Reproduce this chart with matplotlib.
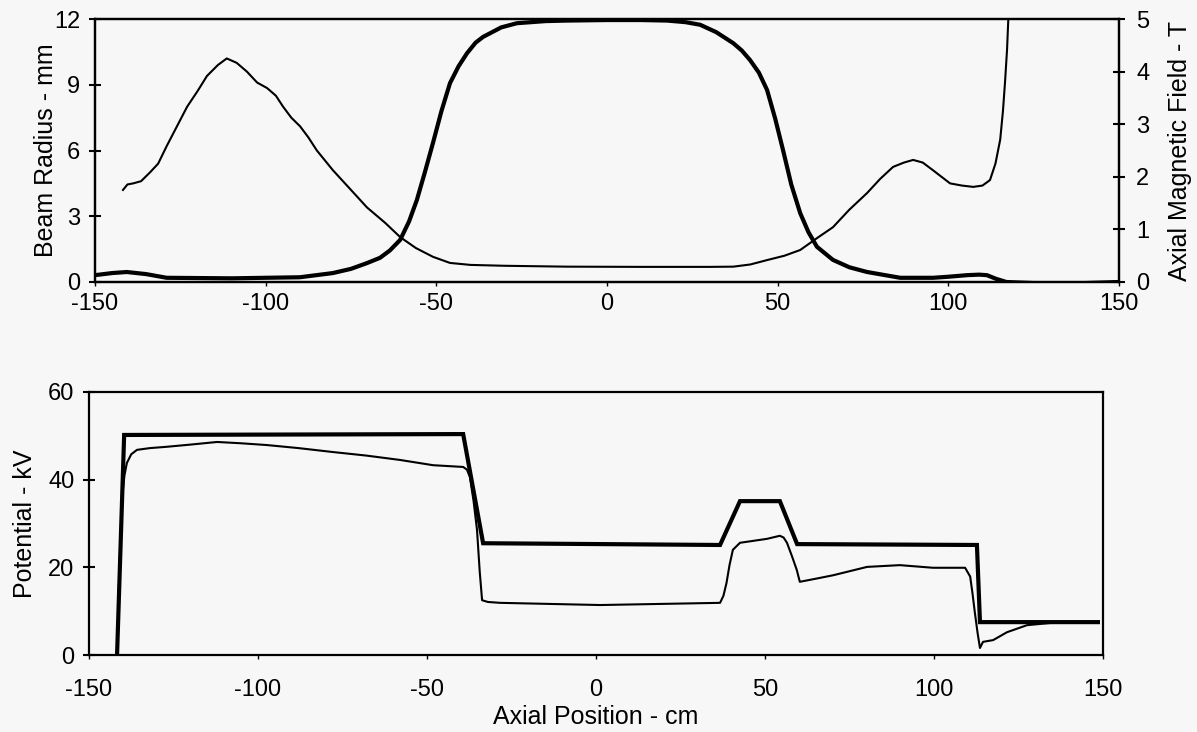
import matplotlib
matplotlib.use("Agg")
import matplotlib.pyplot as plt

plt.rcParams['font.family'] = ['Liberation Sans', 'DejaVu Sans']
plt.rcParams['axes.unicode_minus'] = False

# ---- Top panel: beam radius (mm) ----
radius_x = [-141.8, -140.5, -138.8, -136.5, -133.9, -131.5, -129.0, -126.0, -123.0, -120.0, -117.2,
            -114.0, -111.4, -108.5, -105.5, -102.5, -99.6, -97.0, -94.9, -92.5, -89.9, -87.5, -85.0,
            -80.3, -75.0, -70.3, -65.0, -60.6, -56.0, -51.0, -46.0, -40.0, -30.0, -11.7, 10.0, 30.0,
            37.0, 42.0, 46.9, 52.0, 56.6, 61.5, 66.2, 71.0, 76.2, 80.0, 83.8, 87.0, 89.7, 92.5, 95.5,
            98.0, 100.5, 104.0, 107.3, 110.0, 112.2, 113.8, 115.2, 116.0, 116.6, 117.2, 117.6]
radius_y = [4.2, 4.45, 4.5, 4.6, 5.0, 5.4, 6.2, 7.1, 8.0, 8.7, 9.4,
            9.9, 10.2, 10.0, 9.6, 9.1, 8.85, 8.5, 8.0, 7.5, 7.1, 6.6, 6.0,
            5.1, 4.2, 3.4, 2.7, 2.05, 1.55, 1.15, 0.87, 0.78, 0.74, 0.70, 0.69, 0.69,
            0.70, 0.80, 1.0, 1.2, 1.46, 2.0, 2.5, 3.3, 4.06, 4.7, 5.25, 5.45, 5.57, 5.45, 5.1,
            4.8, 4.5, 4.4, 4.34, 4.4, 4.65, 5.4, 6.5, 7.8, 9.1, 10.6, 12.1]

# ---- Top panel: axial magnetic field (T) ----
field_x = [-150.0, -145.0, -140.7, -135.0, -129.0, -110.0, -90.0, -80.3, -75.0, -70.3, -66.5, -63.6,
           -60.6, -58.0, -55.7, -53.3, -51.0, -48.5, -46.0, -43.5, -41.0, -38.5, -36.3, -31.0, -26.4,
           -18.0, -11.7, 0.0, 10.0, 17.6, 23.0, 27.3, 32.0, 37.0, 39.5, 41.9, 44.5, 46.9, 49.3, 51.6,
           54.0, 56.6, 59.0, 61.5, 66.2, 71.0, 76.2, 85.9, 95.5, 100.0, 105.5, 109.0, 111.3, 114.0,
           117.0, 125.0, 140.0, 150.0]
field_y = [0.13, 0.17, 0.19, 0.15, 0.08, 0.07, 0.09, 0.17, 0.25, 0.36, 0.46, 0.6,
           0.8, 1.15, 1.56, 2.1, 2.64, 3.25, 3.78, 4.1, 4.35, 4.55, 4.66, 4.84, 4.92,
           4.96, 4.97, 4.98, 4.98, 4.97, 4.94, 4.89, 4.75, 4.54, 4.4, 4.22, 3.98, 3.65, 3.1, 2.5,
           1.85, 1.31, 0.95, 0.67, 0.42, 0.28, 0.19, 0.08, 0.08, 0.1, 0.13, 0.14, 0.13, 0.06,
           0.0, -0.02, -0.02, 0.0]

# ---- Bottom panel: potentials (kV) ----
applied_x = [-141.7, -139.6, -39.3, -33.4, 36.7, 42.6, 54.4, 59.5, 112.7, 113.6, 148.5]
applied_y = [0.0, 50.2, 50.4, 25.5, 25.1, 35.1, 35.1, 25.3, 25.1, 7.5, 7.5]

beam_x = [-141.7, -141.0, -140.2, -139.5, -138.8, -137.5, -135.8, -132.0, -127.0, -120.0, -112.1,
          -105.0, -97.4, -88.0, -77.8, -68.0, -58.0, -48.2, -39.3, -38.2, -37.3, -36.2, -35.2,
          -34.4, -33.7, -32.0, -28.4, 1.2, 36.7, 37.7, 38.6, 39.5, 40.5, 42.6, 50.6, 54.4, 55.5,
          56.5, 58.0, 59.4, 60.3, 65.0, 70.2, 80.2, 89.9, 99.7, 109.2, 110.7, 111.4, 112.1,
          112.9, 113.6, 114.5, 117.5, 121.6, 127.5, 134.3, 148.5]
beam_y = [0.0, 20.0, 36.0, 41.0, 43.8, 45.8, 46.8, 47.2, 47.5, 48.0, 48.6,
          48.3, 47.9, 47.2, 46.3, 45.5, 44.5, 43.3, 42.9, 42.3, 40.6, 35.0, 28.5,
          19.0, 12.5, 12.1, 11.9, 11.4, 11.9, 13.5, 16.4, 20.5, 24.0, 25.6, 26.5, 27.2, 26.8,
          25.6, 22.5, 19.4, 16.7, 17.4, 18.2, 20.1, 20.5, 19.9, 19.9, 17.9, 14.0, 9.6,
          5.0, 1.6, 3.0, 3.4, 5.2, 6.8, 7.3, 7.5]

top_xticks = [-150, -100, -50, 0, 50, 100, 150]
radius_ticks = [0, 3, 6, 9, 12]
field_ticks = [0, 1, 2, 3, 4, 5]
pot_ticks = [0, 20, 40, 60]

bg = '#f7f7f7'
fig = plt.figure(figsize=(11.97, 7.32), dpi=100, facecolor=bg)

W, H = 1197, 732
def rect(l, r, t, b):
    return [l / W, (H - b) / H, (r - l) / W, (b - t) / H]

fs = 17
lfs = 18
lw_spine = 1.6

# Top axes
ax1 = fig.add_axes(rect(95, 1119, 19, 282))
ax1.set_facecolor(bg)
ax2 = ax1.twinx()
ax1.plot(radius_x, radius_y, color='black', lw=1.5, solid_joinstyle='round')
ax2.plot(field_x, field_y, color='black', lw=3.0, solid_joinstyle='round')
ax1.set_xlim(-150, 150)
ax1.set_ylim(0, 12)
ax2.set_ylim(0, 5)
ax1.set_xticks(top_xticks)
ax1.set_yticks(radius_ticks)
ax2.set_yticks(field_ticks)
ax1.tick_params(axis='y', direction='inout', length=9, width=1.5, labelsize=fs, pad=6)
ax2.tick_params(axis='y', direction='inout', length=9, width=1.5, labelsize=fs, pad=8)
ax1.tick_params(axis='x', direction='out', length=3, width=1.0, labelsize=fs, pad=5)
ax1.set_ylabel('Beam Radius - mm', fontsize=lfs, labelpad=-3)
ax2.set_ylabel('Axial Magnetic Field - T', fontsize=lfs, labelpad=13)
for a in (ax1, ax2):
    for s in a.spines.values():
        s.set_linewidth(lw_spine)

# Bottom axes
ax3 = fig.add_axes(rect(89, 1103, 392, 655))
ax3.set_facecolor(bg)
ax3.plot(applied_x, applied_y, color='black', lw=3.0, solid_joinstyle='miter')
ax3.plot(beam_x, beam_y, color='black', lw=1.5, solid_joinstyle='round')
ax3.set_xlim(-150, 150)
ax3.set_ylim(0, 60)
ax3.set_xticks(top_xticks)
ax3.set_yticks(pot_ticks)
ax3.tick_params(axis='y', direction='inout', length=9, width=1.5, labelsize=fs, pad=6)
ax3.tick_params(axis='x', direction='out', length=3, width=1.0, labelsize=fs, pad=14)
ax3.set_xlabel('Axial Position - cm', fontsize=lfs, labelpad=3)
ax3.set_ylabel('Potential - kV', fontsize=lfs, labelpad=8)
for s in ax3.spines.values():
    s.set_linewidth(lw_spine)

fig.savefig('out.png', dpi=100, facecolor=bg)
